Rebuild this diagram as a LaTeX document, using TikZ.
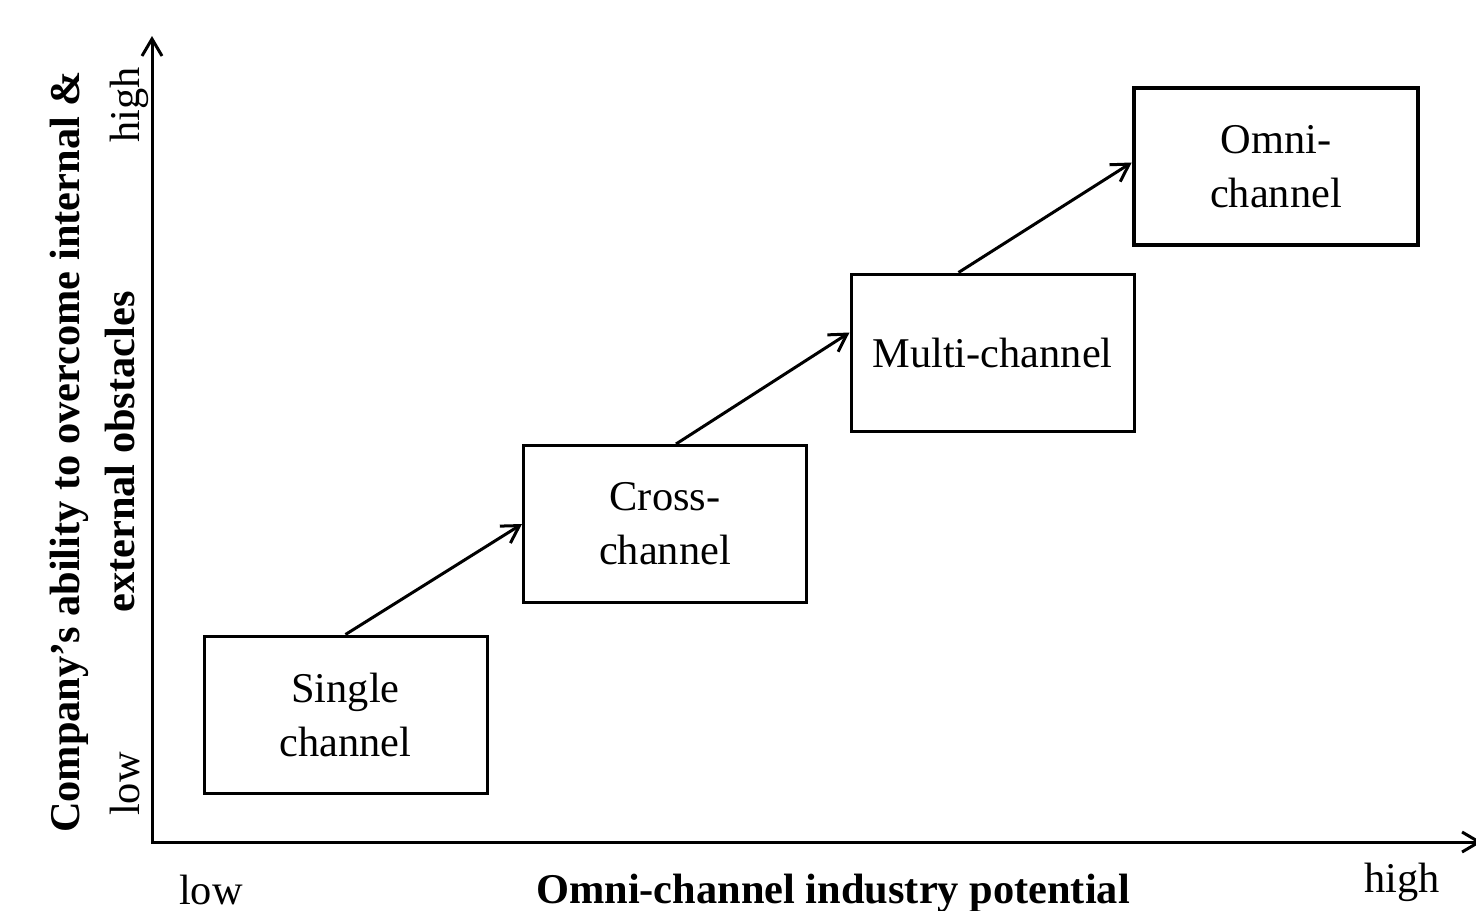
\documentclass[tikz,border=0pt]{standalone}
\usepackage{fontspec}
\setmainfont{Liberation Serif}
\usetikzlibrary{positioning,arrows.meta,calc}

\begin{document}
\begin{tikzpicture}[
    x=0.5pt, y=-0.5pt,
    >={Straight Barb[length=8.5pt,width=10pt]},
    font=\fontsize{21.2}{27}\selectfont,
    stage/.style={draw, line width=1.5pt, minimum width=141.5pt,
      minimum height=78.5pt, align=center, inner sep=2pt},
    final/.style={stage, line width=2.3pt, minimum width=142pt},
    axis/.style={<->, line width=1.5pt},
    flow/.style={->, line width=1.5pt},
    tick/.style={anchor=base},
    title/.style={font=\fontsize{21.2}{27.5}\selectfont\bfseries, align=center},
  ]
\useasboundingbox (0,0) rectangle (1476,910);

% ===== Axes =====
\coordinate (origin) at (152,842);
\coordinate (yTop) at (152,36);
\coordinate (xEnd) at (1482,842);
\draw[axis] (yTop) -- (origin) -- (xEnd);

% Axis ticks and titles
\node[tick, rotate=90] (yHigh) at (139,105) {high};
\node[tick, rotate=90] (yLow) at (139,784) {low};
\node[title, rotate=90] (yTitle) at (92,452)
  {Company's ability to overcome internal \&\\external obstacles};
\node[tick] (xLow) at (211,904) {low};
\node[tick] (xHigh) at (1402,892) {high};
\node[tick, font=\fontsize{21.2}{27}\selectfont\bfseries] (xTitle) at (833,903)
  {Omni-channel industry potential};

% ===== Stages =====
\node[stage] (single) at (345.5,714.5) {Single\\channel};
\node[stage] (cross) at (665,524) {Cross-\\channel};
\node[stage] (multi) at (992.5,352.5) {Multi-channel};
\node[final] (omni) at (1276,166.5) {Omni-\\channel};

% Arrows
\draw[flow] (single.north) -- (cross.west);
\draw[flow] ([xshift=5.5pt]cross.north) -- ([yshift=10pt]multi.west);
\draw[flow] ([xshift=-17pt]multi.north) -- ([yshift=2pt]omni.west);

\end{tikzpicture}
\end{document}
